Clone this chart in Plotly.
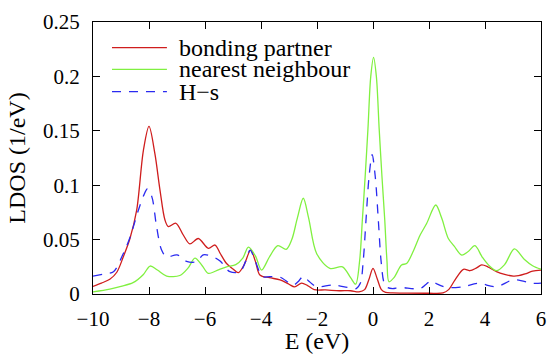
import plotly.graph_objects as go

# ---- data ----
E_bond = [-10, -9.7, -9.4, -9.15, -8.92, -8.68, -8.44, -8.2, -8.0, -7.79, -7.61, -7.43, -7.31, -7.04,
          -6.77, -6.54, -6.24, -5.88, -5.64, -5.45, -5.23, -5.0, -4.81, -4.6, -4.37, -4.2, -4.04,
          -3.7, -3.32, -3.0, -2.8, -2.55, -2.35, -2.1, -1.7, -1.2, -0.8, -0.5, -0.3, -0.15, 0.0,
          0.15, 0.3, 0.45, 0.7, 1.2, 2.0, 2.5, 2.7, 2.93, 3.23, 3.46, 3.7, 3.88, 4.1, 4.41, 4.7,
          5.01, 5.2, 5.43, 5.7, 6.0]
LDOS_bond = [0.007, 0.010, 0.0135, 0.020, 0.034, 0.051, 0.077, 0.132, 0.154, 0.129, 0.096, 0.068,
             0.062, 0.065, 0.054, 0.046, 0.051, 0.042, 0.045, 0.037, 0.028, 0.023, 0.0196, 0.027,
             0.0404, 0.030, 0.0175, 0.015, 0.013, 0.009, 0.0065, 0.010, 0.008, 0.004, 0.0037,
             0.003, 0.003, 0.002, 0.004, 0.013, 0.0236, 0.014, 0.004, 0.0015, 0.001, 0.0008,
             0.0007, 0.001, 0.004, 0.013, 0.0227, 0.0214, 0.024, 0.0267, 0.025, 0.0205, 0.018,
             0.0165, 0.0168, 0.0184, 0.021, 0.022]

E_nn = [-10, -9.4, -9.0, -8.57, -8.2, -7.96, -7.7, -7.37, -6.9, -6.6, -6.36, -6.1, -5.88, -5.5,
        -5.23, -4.9, -4.65, -4.45, -4.2, -3.98, -3.7, -3.4, -3.1, -2.9, -2.7, -2.49, -2.3, -2.01,
        -1.54, -1.09, -0.8, -0.62, -0.48, -0.38, -0.28, -0.18, -0.08, 0.02, 0.12, 0.22, 0.32,
        0.42, 0.5, 0.57, 0.75, 1.02, 1.2, 1.45, 1.68, 1.92, 2.24, 2.45, 2.69, 2.9, 3.17, 3.4,
        3.64, 3.9, 4.15, 4.41, 4.7, 5.05, 5.4, 5.7, 6.0]
LDOS_nn = [0.002, 0.0045, 0.007, 0.0104, 0.018, 0.0257, 0.022, 0.0165, 0.017, 0.024, 0.033, 0.026,
           0.019, 0.0225, 0.025, 0.027, 0.033, 0.043, 0.035, 0.022, 0.034, 0.0445, 0.041, 0.05,
           0.07, 0.088, 0.07, 0.037, 0.0236, 0.025, 0.015, 0.009, 0.03, 0.068, 0.108, 0.152,
           0.2, 0.2175, 0.2, 0.152, 0.108, 0.068, 0.03, 0.0113, 0.015, 0.0267, 0.028, 0.04, 0.054,
           0.065, 0.0818, 0.07, 0.051, 0.044, 0.0358, 0.039, 0.0444, 0.034, 0.026, 0.0214, 0.027,
           0.0414, 0.032, 0.026, 0.0227]

E_hs = [-10, -9.6, -9.27, -8.92, -8.68, -8.38, -8.2, -8.06, -7.9, -7.73, -7.55, -7.37, -7.0, -6.66,
        -6.3, -6.06, -5.7, -5.45, -5.11, -4.75, -4.55, -4.39, -4.2, -3.95, -3.68, -3.32, -2.85,
        -2.65, -2.49, -2.3, -2.01, -1.42, -0.9, -0.6, -0.45, -0.35, -0.25, -0.14, -0.03, 0.08,
        0.19, 0.29, 0.4, 0.52, 0.7, 0.96, 1.68, 1.9, 2.09, 2.3, 2.63, 3.23, 3.76, 4.41, 5.01,
        5.73, 6.0]
LDOS_hs = [0.0165, 0.0185, 0.0205, 0.037, 0.052, 0.077, 0.09, 0.0965, 0.0895, 0.062, 0.0404, 0.034,
           0.036, 0.030, 0.0297, 0.036, 0.034, 0.030, 0.0205, 0.0205, 0.03, 0.0404, 0.03, 0.016,
           0.016, 0.0155, 0.0083, 0.012, 0.0165, 0.012, 0.0067, 0.0083, 0.006, 0.005, 0.01, 0.03,
           0.068, 0.108, 0.128, 0.108, 0.068, 0.03, 0.01, 0.006, 0.005, 0.006, 0.005, 0.009, 0.0123,
           0.009, 0.006, 0.0067, 0.0098, 0.0067, 0.013, 0.0098, 0.010]

series_names = ["bonding partner", "nearest neighbour", "H\u2212s"]
x_ticks = [-10, -8, -6, -4, -2, 0, 2, 4, 6]
y_ticks = [0, 0.05, 0.1, 0.15, 0.2, 0.25]
y_tick_text = ["0", "0.05", "0.1", "0.15", "0.2", "0.25"]

RED, GREEN, BLUE = "#cf1d1d", "#80f040", "#2a2af0"
FONT = "Liberation Serif"

fig = go.Figure()
styles = [dict(color=RED, width=1.3), dict(color=GREEN, width=1.3),
          dict(color=BLUE, width=1.3, dash="9px,8px")]
for (xs, ys), name, st in zip([(E_bond, LDOS_bond), (E_nn, LDOS_nn), (E_hs, LDOS_hs)],
                              series_names, styles):
    fig.add_trace(go.Scatter(x=xs, y=ys, mode="lines", name=name, line=st,
                             line_shape="spline", line_smoothing=0.9, showlegend=False))

# manual legend (key) in paper coordinates
leg_y = [0.9055, 0.826, 0.744]
for yy, name, st in zip(leg_y, series_names, styles):
    fig.add_shape(type="line", xref="paper", yref="paper", x0=0.0424, x1=0.165, y0=yy, y1=yy,
                  line=st)
    fig.add_annotation(xref="paper", yref="paper", x=0.188, y=yy, text=name, showarrow=False,
                       xanchor="left", yanchor="middle", font=dict(family=FONT, size=24))

axis_common = dict(showgrid=False, zeroline=False, showline=True, linecolor="black", linewidth=1.3,
                   mirror="ticks", ticks="inside", ticklen=7, tickwidth=1.3, tickcolor="black",
                   tickfont=dict(family=FONT, size=21), automargin=False)
fig.update_xaxes(range=[-10, 6], tickvals=x_ticks, ticktext=[str(t).replace("-", "\u2212") for t in x_ticks],
                 title=dict(text="E (eV)", font=dict(family=FONT, size=24), standoff=7),
                 ticklabelstandoff=6, **axis_common)
fig.update_yaxes(range=[0, 0.25], tickvals=y_ticks, ticktext=y_tick_text,
                 title=dict(text="LDOS (1/eV)", font=dict(family=FONT, size=24), standoff=10),
                 ticklabelstandoff=8, **axis_common)
fig.update_layout(width=548, height=354, margin=dict(l=93, r=7, t=22, b=60),
                  paper_bgcolor="white", plot_bgcolor="white",
                  font=dict(family=FONT, color="black"))
fig.write_html("out.html")
